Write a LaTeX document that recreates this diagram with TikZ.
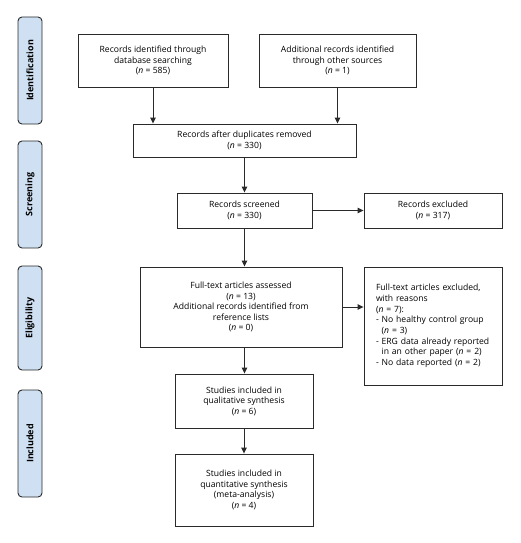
\documentclass[tikz,border=0pt]{standalone}
\usepackage{fontspec}
\setmainfont{Open Sans}
\usetikzlibrary{arrows.meta}
\definecolor{stagefill}{HTML}{CFE0F3}
\definecolor{linecol}{HTML}{2A2A2A}
\tikzset{
  box/.style={draw=linecol, line width=0.9pt, fill=white, inner sep=2pt, align=center,
    font=\fontsize{8.6}{10.5}\selectfont, text=black},
  stage/.style={draw=linecol, line width=0.9pt, fill=stagefill, rounded corners=4pt,
    minimum width=24pt, inner sep=0pt},
  stagetext/.style={rotate=90, font=\fontsize{9}{10}\selectfont\bfseries},
  arr/.style={draw=linecol, line width=0.9pt, -{Triangle[length=6pt,width=5.5pt]}}
}
\begin{document}
\begin{tikzpicture}[x=1pt,y=-1pt]
\useasboundingbox (0,0) rectangle (520,543);
% stage labels
\node[stage, minimum height=107pt] (s1) at (30,70.5) {};
\node[stagetext] (s1t) at (s1.center) {Identification};
\node[stage, minimum height=107pt] (s2) at (30,194.5) {};
\node[stagetext] (s2t) at (s2.center) {Screening};
\node[stage, minimum height=104pt] (s3) at (30,318) {};
\node[stagetext] (s3t) at (s3.center) {Eligibility};
\node[stage, minimum height=107pt] (s4) at (30,443.5) {};
\node[stagetext] (s4t) at (s4.center) {Included};
% boxes
\node[box, minimum width=150pt, minimum height=53pt] (b1) at (153,60.5)
  {Records identified through\\database searching\\(\textit{n} = 585)};
\node[box, minimum width=157pt, minimum height=53pt] (b2) at (337.5,60.5)
  {Additional records identified\\through other sources\\(\textit{n} = 1)};
\node[box, minimum width=223pt, minimum height=33pt] (b3) at (244.5,140.5)
  {Records after duplicates removed\\(\textit{n} = 330)};
\node[box, minimum width=135pt, minimum height=35pt] (b4) at (244.5,210.5)
  {Records screened\\(\textit{n} = 330)};
\node[box, minimum width=138pt, minimum height=35pt] (b5) at (433,210.5)
  {Records excluded\\(\textit{n} = 317)};
\node[box, minimum width=202pt, minimum height=80pt] (b6) at (241,307)
  {Full-text articles assessed\\(\textit{n} = 13)\\Additional records identified from\\reference lists\\(\textit{n} = 0)};
\node[box, minimum width=138pt, minimum height=118pt, align=left, text width=114pt,
  font=\fontsize{8.6}{10.7}\selectfont] (b7) at (433,326)
  {Full-text articles excluded,\\with reasons\\(\textit{n} = 7):\\- No healthy control group\\\phantom{- }(\textit{n} = 3)\\- ERG data already reported\\\phantom{- }in an other paper (\textit{n} = 2)\\- No data reported (\textit{n} = 2)};
\node[box, minimum width=138pt, minimum height=54pt] (b8) at (244,401)
  {Studies included in\\qualitative synthesis\\(\textit{n} = 6)};
\node[box, minimum width=138pt, minimum height=72pt] (b9) at (244,490)
  {Studies included in\\quantitative synthesis\\(meta-analysis)\\(\textit{n} = 4)};
% connectors
\draw[arr] (b1.south) -- (b1.south |- b3.north);
\draw[arr] (b2.south) -- (b2.south |- b3.north);
\draw[arr] (b3.south) -- (b3.south |- b4.north);
\draw[arr] (b4.east) -- (b5.west);
\draw[arr] (b4.south) -- (b4.south |- b6.north);
\draw[arr] (b6.east) -- (b6.east -| b7.west);
\draw[arr] (b4.south |- b6.south) -- (b4.south |- b8.north);
\draw[arr] (b8.south) -- (b9.north);
\end{tikzpicture}
\end{document}
